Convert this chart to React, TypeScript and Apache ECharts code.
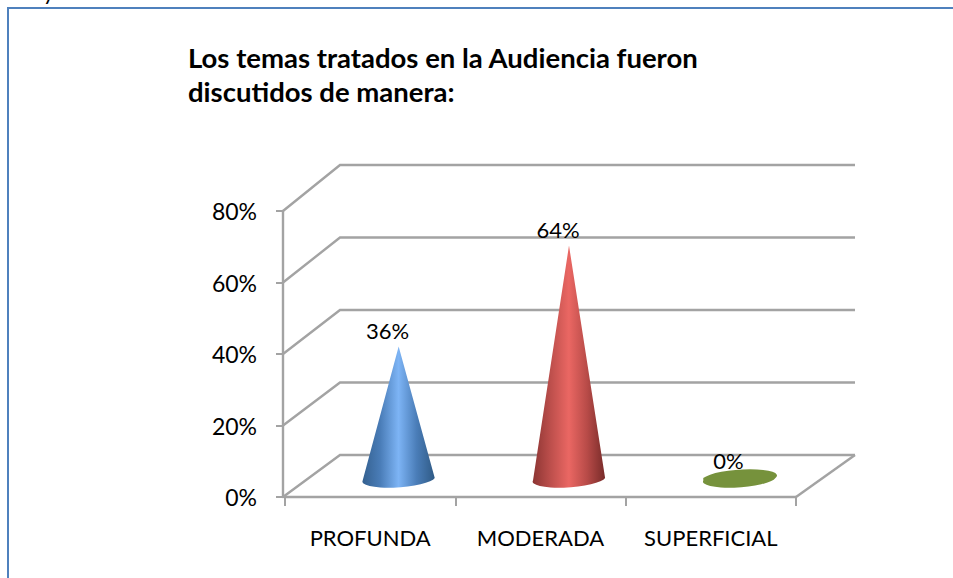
import React, { useEffect, useRef } from "react";
import * as echarts from "echarts";

const titleLines = ["Los temas tratados en la Audiencia fueron", "discutidos de manera:"];
const categories = ["PROFUNDA", "MODERADA", "SUPERFICIAL"];
const values = [36, 64, 0];
const yTicks = [0, 20, 40, 60, 80];

const FONT = "Lato";
const GRID_COLOR = "#a3a3a3";
const DEPTH_X = 57;
const DEPTH_Y = 42;
const DEPTH_Y_TOP = 46;
const CONE_RX = 36;
const CONE_RY = 8;

const depthAt = (v: number) => DEPTH_Y + (v / 80) * (DEPTH_Y_TOP - DEPTH_Y);

const ramp = (stops: string[]) =>
  new echarts.graphic.LinearGradient(
    0, 0, 1, 0,
    stops.map((color, i) => ({ offset: i / (stops.length - 1), color }))
  );

const fills = [
  ramp(["#34608f", "#4a7db8", "#7db4f5", "#4a7db8", "#2f5a85"]),
  ramp(["#8c3533", "#bd4f4c", "#ea6763", "#b84b48", "#782b29"]),
  "#76923c",
];

export default function App() {
  const ref = useRef<HTMLDivElement>(null);

  useEffect(() => {
    document.body.style.margin = "0";
    document.body.style.overflow = "hidden";
    const chart = echarts.init(ref.current!, null, { renderer: "svg" });

    const renderWall = (params: any, api: any) => {
      const v = api.value(0);
      const g = params.coordSys;
      const y = api.coord([0, v])[1];
      const x0 = g.x - 2;
      const x1 = g.x + g.width;
      const backY = y - depthAt(v);
      const style = { stroke: GRID_COLOR, lineWidth: 2.4, fill: "none" };
      const children: any[] = [
        {
          type: "polyline",
          shape: { points: [[x0, y], [x0 + DEPTH_X, backY], [x1 + 59, backY]] },
          style,
        },
      ];
      if (v === 0) {
        children.push({
          type: "line",
          shape: { x1, y1: y, x2: x1 + 59, y2: backY },
          style,
        });
      }
      return { type: "group", children };
    };

    const renderCone = (params: any, api: any) => {
      const idx = api.value(0);
      const v = api.value(1);
      const top = api.coord([idx, v]);
      const cx = top[0] + DEPTH_X / 2;
      const apexY = top[1] - depthAt(v) / 2;
      const baseY = api.coord([idx, 0])[1] - DEPTH_Y / 2 + 2;
      const lx = cx - CONE_RX;
      const rx = cx + CONE_RX;
      const ly = baseY + 2.5;
      const ry = baseY - 2.5;
      const arc = `A${CONE_RX} ${CONE_RY} -4 0 0`;
      const d =
        v > 0
          ? `M${cx} ${apexY}L${lx} ${ly}${arc} ${rx} ${ry}Z`
          : `M${lx} ${ly}${arc} ${rx} ${ry}${arc} ${lx} ${ly}Z`;
      return {
        type: "group",
        children: [
          { type: "path", shape: { pathData: d }, style: { fill: fills[params.dataIndex] } },
          {
            type: "text",
            style: {
              text: `${v}%`,
              x: cx - 11,
              y: apexY - 16,
              align: "center",
              verticalAlign: "middle",
              fontFamily: FONT,
              fontSize: 22,
              fill: "#000",
            },
          },
        ],
      };
    };

    chart.setOption({
      animation: false,
      backgroundColor: "#fff",
      grid: { left: 285, right: 157, top: 211, bottom: 81, containLabel: false },
      xAxis: {
        type: "category",
        data: categories,
        axisLine: { lineStyle: { color: GRID_COLOR, width: 2.4 } },
        axisTick: { show: true, length: 9, lineStyle: { color: GRID_COLOR, width: 2 } },
        axisLabel: { margin: 29, fontFamily: FONT, fontSize: 22, color: "#000", interval: 0 },
      },
      yAxis: {
        type: "value",
        min: 0,
        max: 80,
        interval: 20,
        offset: 2,
        splitLine: { show: false },
        axisLine: { show: true, lineStyle: { color: GRID_COLOR, width: 2.4 } },
        axisTick: { show: true, length: 7, lineStyle: { color: GRID_COLOR, width: 2 } },
        axisLabel: {
          margin: 26,
          fontFamily: FONT,
          fontSize: 23,
          color: "#000",
          padding: [4, 0, 0, 0],
          formatter: "{value}%",
        },
      },
      graphic: [
        {
          type: "rect",
          z: -10,
          shape: { x: 8, y: 8, width: 1000, height: 700 },
          style: { fill: "none", stroke: "#4f81bd", lineWidth: 2 },
        },
        {
          type: "text",
          x: 43,
          y: -20,
          style: { text: "y", fontFamily: FONT, fontSize: 22, fill: "#000" },
        },
        {
          type: "text",
          x: 188,
          y: 40,
          style: {
            text: titleLines.join("\n"),
            fontFamily: FONT,
            fontWeight: "bold",
            fontSize: 27.5,
            lineHeight: 34,
            fill: "#000",
          },
        },
      ],
      series: [
        {
          type: "custom",
          name: "wall",
          z: 1,
          clip: false,
          silent: true,
          renderItem: renderWall,
          encode: { y: 0 },
          data: yTicks.map((t) => [t]),
        },
        {
          type: "custom",
          name: "cones",
          z: 5,
          clip: false,
          silent: true,
          renderItem: renderCone,
          encode: { x: 0, y: 1 },
          data: values.map((v, i) => [i, v]),
        },
      ],
    });

    return () => chart.dispose();
  }, []);

  return <div ref={ref} style={{ width: 953, height: 578 }} />;
}
